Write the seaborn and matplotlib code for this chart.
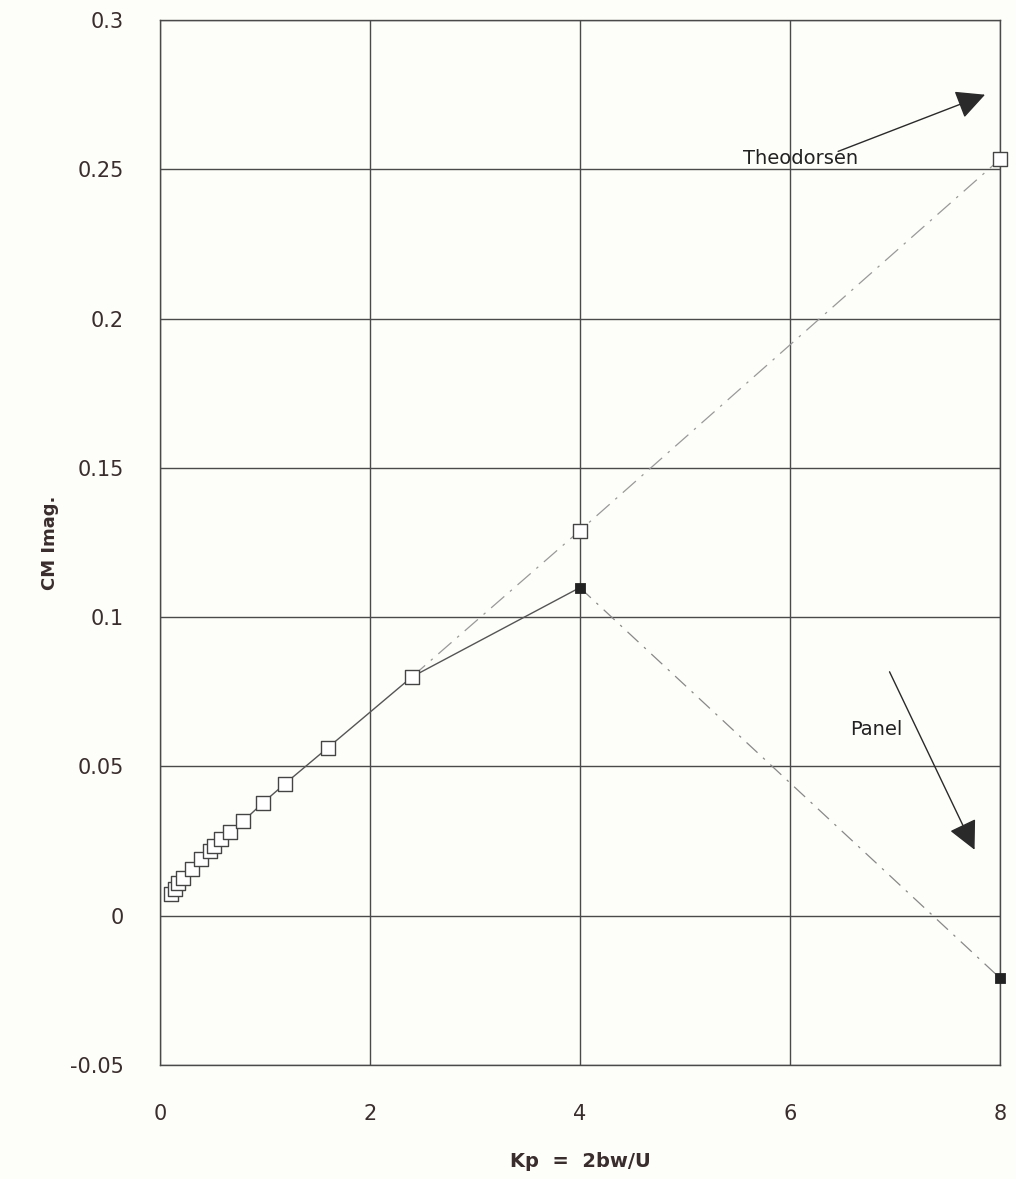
import matplotlib
matplotlib.use("Agg")
import matplotlib.pyplot as plt
import seaborn as sns
import pandas as pd

# data
kp_theo = [0.10, 0.14, 0.17, 0.22, 0.30, 0.39, 0.48, 0.51, 0.58, 0.67, 0.79, 0.98, 1.19, 1.6, 2.4, 4.0, 8.0]
cm_theo = [0.0072, 0.0090, 0.0108, 0.0125, 0.0158, 0.0190, 0.0218, 0.0232, 0.0256, 0.0280, 0.0316, 0.0378, 0.0442, 0.0563, 0.0800, 0.1290, 0.2533]
kp_panel = kp_theo[:15] + [4.0, 8.0]
cm_panel = cm_theo[:15] + [0.1099, -0.0208]

x_ticks = [0, 2, 4, 6, 8]
y_ticks = [-0.05, 0, 0.05, 0.1, 0.15, 0.2, 0.25, 0.3]
y_labels = ["-0.05", "0", "0.05", "0.1", "0.15", "0.2", "0.25", "0.3"]

sns.set_style("white")
plt.rcParams['font.family'] = ['DejaVu Sans']

fig = plt.figure(figsize=(10.16, 11.79), dpi=100, facecolor='#fdfdf9')
ax = fig.add_axes([0.1575, 0.0967, 0.8265, 0.8863])
ax.set_facecolor('#fdfdf9')

theo = pd.DataFrame({'kp': kp_theo, 'cm': cm_theo})
panel = pd.DataFrame({'kp': kp_panel, 'cm': cm_panel})

# panel: solid up to 4, dash-dot beyond
sns.lineplot(data=panel[panel.kp <= 4], x='kp', y='cm', color='#555555', lw=1.0, ax=ax,
             sort=False, zorder=3)
sns.lineplot(data=panel[panel.kp >= 4], x='kp', y='cm', color='#888888', lw=0.9, ax=ax,
             sort=False, linestyle=(0, (12, 6, 2, 6)), zorder=3)
sns.scatterplot(data=panel[panel.kp >= 4], x='kp', y='cm', marker='s', s=55, color='#222222',
                edgecolor='#222222', ax=ax, zorder=4, clip_on=False)

# theodorsen
sns.lineplot(data=theo[theo.kp >= 2.4], x='kp', y='cm', color='#999999', lw=0.9, ax=ax,
             sort=False, linestyle=(0, (14, 6, 2, 6)), zorder=3)
sns.scatterplot(data=theo, x='kp', y='cm', marker='s', s=105, color='white',
                edgecolor='#444444', linewidth=1.0, ax=ax, zorder=5, clip_on=False)

ax.set_xlim(0, 8)
ax.set_ylim(-0.05, 0.3)
ax.set_xticks(x_ticks)
ax.set_yticks(y_ticks)
ax.set_yticklabels(y_labels)
ax.grid(True, color='#4a4a4a', lw=1.0)
ax.set_axisbelow(True)
for s in ax.spines.values():
    s.set_color('#4a4a4a')
    s.set_linewidth(1.0)
ax.tick_params(axis='y', direction='out', length=12, width=1, color='#4a4a4a',
               labelsize=15, labelcolor='#3a2d2d', pad=14)
ax.tick_params(axis='x', length=0, labelsize=15, labelcolor='#3a2d2d', pad=28)

ax.set_xlabel('Kp  =  2bw/U', fontsize=14, fontweight='bold', color='#3a2d2d', labelpad=20)
ax.set_ylabel('CM Imag.', fontsize=13, fontweight='bold', color='#3a2d2d', labelpad=8)

arrow = dict(arrowstyle='-|>', mutation_scale=45, color='#2a2a2a', lw=1.0, shrinkA=0, shrinkB=0)
ax.annotate('', xy=(7.86, 0.275), xytext=(6.46, 0.256), arrowprops=arrow)
ax.text(6.1, 0.2535, 'Theodorsen', fontsize=14, color='#222222', ha='center', va='center')
ax.annotate('', xy=(7.76, 0.0221), xytext=(6.95, 0.0817), arrowprops=arrow)
ax.text(6.82, 0.0625, 'Panel', fontsize=14, color='#222222', ha='center', va='center')

fig.savefig('out.png', dpi=100, facecolor=fig.get_facecolor())
